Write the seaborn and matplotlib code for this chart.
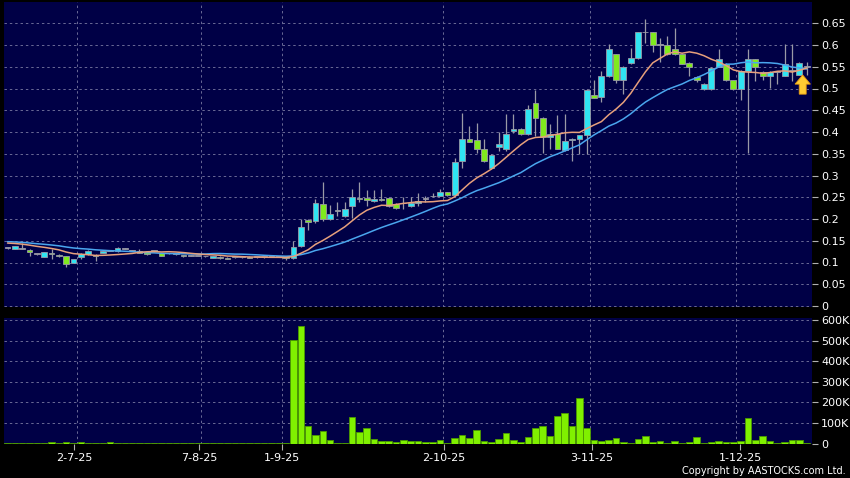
import numpy as np
import pandas as pd
import matplotlib
matplotlib.use("Agg")
import matplotlib.pyplot as plt
import seaborn as sns
from matplotlib.patches import FancyArrow

# ---------------- data ----------------
opens = [0.133, 0.130, 0.132, 0.129, 0.119, 0.113, 0.121, 0.118, 0.115, 0.100,
         0.113, 0.119, 0.118, 0.122, 0.127, 0.126, 0.131, 0.127, 0.126, 0.125,
         0.126, 0.121, 0.121, 0.119, 0.117, 0.116, 0.115, 0.114, 0.111, 0.113,
         0.111, 0.112, 0.112, 0.113, 0.112, 0.112, 0.113, 0.113, 0.115, 0.110,
         0.138, 0.198, 0.195, 0.235, 0.200, 0.218, 0.206, 0.229, 0.249, 0.249,
         0.242, 0.247, 0.249, 0.235, 0.236, 0.230, 0.236, 0.246, 0.252, 0.254,
         0.261, 0.256, 0.333, 0.385, 0.381, 0.361, 0.318, 0.366, 0.362, 0.402,
         0.407, 0.396, 0.467, 0.432, 0.388, 0.396, 0.358, 0.381, 0.384, 0.393,
         0.485, 0.481, 0.529, 0.579, 0.519, 0.558, 0.569, 0.629, 0.629, 0.600,
         0.599, 0.590, 0.579, 0.558, 0.527, 0.498, 0.498, 0.550, 0.557, 0.519,
         0.498, 0.540, 0.567, 0.539, 0.529, 0.539, 0.529, 0.540, 0.531, 0.550]
highs = [0.136, 0.139, 0.144, 0.130, 0.120, 0.124, 0.132, 0.119, 0.116, 0.108,
         0.121, 0.128, 0.119, 0.127, 0.128, 0.135, 0.133, 0.128, 0.130, 0.126,
         0.127, 0.122, 0.121, 0.120, 0.118, 0.117, 0.116, 0.115, 0.116, 0.114,
         0.112, 0.113, 0.112, 0.114, 0.113, 0.113, 0.113, 0.114, 0.116, 0.150,
         0.200, 0.200, 0.245, 0.285, 0.233, 0.239, 0.239, 0.270, 0.285, 0.266,
         0.267, 0.270, 0.250, 0.236, 0.250, 0.250, 0.260, 0.252, 0.260, 0.270,
         0.262, 0.340, 0.444, 0.414, 0.420, 0.384, 0.350, 0.400, 0.442, 0.442,
         0.410, 0.463, 0.497, 0.434, 0.418, 0.438, 0.441, 0.386, 0.394, 0.500,
         0.520, 0.541, 0.602, 0.580, 0.552, 0.593, 0.630, 0.659, 0.630, 0.617,
         0.620, 0.640, 0.580, 0.560, 0.528, 0.512, 0.550, 0.590, 0.558, 0.520,
         0.543, 0.590, 0.568, 0.540, 0.540, 0.540, 0.602, 0.602, 0.561, 0.561]
lows = [0.132, 0.130, 0.131, 0.115, 0.118, 0.112, 0.109, 0.113, 0.090, 0.099,
        0.107, 0.118, 0.103, 0.121, 0.126, 0.125, 0.130, 0.126, 0.121, 0.118,
        0.125, 0.115, 0.120, 0.118, 0.113, 0.115, 0.114, 0.113, 0.110, 0.109,
        0.107, 0.111, 0.111, 0.110, 0.111, 0.111, 0.112, 0.112, 0.105, 0.108,
        0.135, 0.175, 0.190, 0.195, 0.198, 0.206, 0.205, 0.202, 0.240, 0.230,
        0.240, 0.242, 0.228, 0.222, 0.222, 0.228, 0.229, 0.240, 0.250, 0.254,
        0.254, 0.254, 0.318, 0.376, 0.352, 0.330, 0.314, 0.356, 0.356, 0.398,
        0.394, 0.394, 0.390, 0.352, 0.361, 0.360, 0.356, 0.334, 0.350, 0.349,
        0.478, 0.468, 0.527, 0.512, 0.488, 0.556, 0.567, 0.605, 0.583, 0.560,
        0.578, 0.578, 0.556, 0.528, 0.514, 0.496, 0.496, 0.549, 0.518, 0.497,
        0.473, 0.352, 0.518, 0.520, 0.502, 0.510, 0.528, 0.517, 0.530, 0.531]
closes = [0.133, 0.138, 0.132, 0.123, 0.119, 0.123, 0.119, 0.114, 0.096, 0.107,
          0.120, 0.126, 0.115, 0.126, 0.127, 0.133, 0.131, 0.127, 0.122, 0.119,
          0.126, 0.116, 0.121, 0.119, 0.114, 0.116, 0.115, 0.114, 0.115, 0.110,
          0.108, 0.112, 0.112, 0.111, 0.112, 0.112, 0.113, 0.113, 0.111, 0.135,
          0.181, 0.193, 0.236, 0.200, 0.212, 0.218, 0.222, 0.250, 0.246, 0.243,
          0.246, 0.243, 0.230, 0.225, 0.236, 0.236, 0.241, 0.246, 0.252, 0.261,
          0.255, 0.331, 0.385, 0.377, 0.361, 0.333, 0.347, 0.373, 0.396, 0.407,
          0.396, 0.452, 0.432, 0.388, 0.396, 0.361, 0.380, 0.385, 0.393, 0.496,
          0.479, 0.529, 0.590, 0.519, 0.550, 0.569, 0.629, 0.629, 0.600, 0.600,
          0.579, 0.579, 0.557, 0.550, 0.520, 0.510, 0.548, 0.567, 0.519, 0.498,
          0.540, 0.567, 0.550, 0.529, 0.539, 0.539, 0.557, 0.540, 0.559, 0.550]
# closes before the first visible bar (only used to seed the moving averages)
prior_closes = [0.152, 0.150, 0.153, 0.151, 0.150, 0.152, 0.151, 0.150, 0.152, 0.150,
                0.148, 0.147, 0.146, 0.147, 0.145, 0.146, 0.145, 0.146, 0.144]
volumes_k = [1, 1, 1, 1, 1, 1, 5, 1, 6, 1,
             5, 1, 1, 1, 5, 1, 1, 1, 1, 1,
             1, 1, 1, 1, 1, 1, 1, 1, 1, 1,
             1, 1, 1, 1, 1, 1, 1, 1, 1, 506,
             574, 84, 40, 63, 16, 3, 3, 128, 55, 76,
             21, 11, 10, 6, 18, 11, 13, 6, 6, 16,
             3, 28, 39, 26, 68, 11, 6, 21, 49, 15,
             6, 32, 75, 86, 36, 136, 146, 84, 220, 75,
             19, 10, 16, 26, 5, 2, 24, 37, 6, 10,
             3, 10, 2, 6, 32, 2, 6, 11, 6, 6,
             11, 123, 19, 36, 11, 2, 6, 19, 16, 3]
date_labels = ["2-7-25", "7-8-25", "1-9-25", "2-10-25", "3-11-25", "1-12-25"]
date_label_idx = [9.1, 26.1, 37.4, 59.5, 79.7, 99.9]
date_grid_idx = [9.5, 26.4, 37.4, 59.4, 79.4, 99.3]
price_ticks = [0, 0.05, 0.1, 0.15, 0.2, 0.25, 0.3, 0.35, 0.4, 0.45, 0.5, 0.55, 0.6, 0.65]
volume_ticks_k = [0, 100, 200, 300, 400, 500, 600]

# ---------------- derived ----------------
n = len(closes)
idx = np.arange(n)
o = np.array(opens); h = np.array(highs); l = np.array(lows); c = np.array(closes)
all_close = pd.Series(prior_closes + closes)
ma10 = all_close.rolling(10).mean().to_numpy()[-n:]
ma20 = all_close.rolling(20).mean().to_numpy()[-n:]

# ---------------- style ----------------
sns.set_theme(style="dark")
plt.rcParams["font.family"] = ["DejaVu Sans"]
NAVY = "#000046"
CYAN = "#30e4f2"
GREEN = "#80ea1e"
GRID = "#6a6a96"
EDGE = "#9a9aa6"

W, H = 850, 478
fig = plt.figure(figsize=(W / 100, H / 100), dpi=100, facecolor="black")

def frame(l, t, r, b):
    return [l / W, 1 - b / H, (r - l) / W, (b - t) / H]

ax = fig.add_axes(frame(4, 2, 811.5, 307))
axv = fig.add_axes(frame(4, 318.3, 811.5, 443.5), sharex=ax)

for a in (ax, axv):
    a.set_facecolor(NAVY)
    for s in a.spines.values():
        s.set_visible(False)
    a.grid(False)
    for g in date_grid_idx:
        a.axvline(g, color=GRID, lw=0.7, ls=(0, (2.5, 3)), zorder=0.5)

# ---------------- price panel ----------------
for t in price_ticks:
    ax.axhline(t, color=GRID, lw=0.7, ls=(0, (2.5, 3)), zorder=0.5)

ax.vlines(idx, l, h, color=EDGE, lw=0.9, zorder=2)
body_lo = np.minimum(o, c)
body_h = np.maximum(np.abs(c - o), 0.0018)
body_col = np.where(c > o, CYAN, np.where(c < o, GREEN, EDGE))
ax.bar(idx, body_h, bottom=body_lo, width=0.8, color=body_col,
       edgecolor=EDGE, linewidth=0.6, zorder=3)

sns.lineplot(x=idx, y=ma20, ax=ax, color="#4aa6ee", lw=1.1, zorder=4)
sns.lineplot(x=idx, y=ma10, ax=ax, color="#e7a07c", lw=1.1, zorder=4)

ax.add_patch(FancyArrow(108.45, 0.487, 0, 0.044, width=0.95, head_width=2.1,
                        head_length=0.021, length_includes_head=True,
                        facecolor="#ffcc33", edgecolor="#e89a10", lw=0.6, zorder=6))

ax.set_xlim(-0.48, 109.65)
ax.set_ylim(-1 / 435, 305 / 435 - 1 / 435)
ax.yaxis.tick_right()
ax.set_yticks(price_ticks)
ax.set_yticklabels([f"{t:g}" for t in price_ticks])
ax.tick_params(axis="y", right=True, left=False, length=4, width=0.8, color="#b0b0b0",
               labelcolor="white", labelsize=8, pad=3)
ax.tick_params(axis="x", bottom=False, labelbottom=False)
ax.set_xlabel(""); ax.set_ylabel("")

# ---------------- volume panel ----------------
vol_ticks = [v * 1000 for v in volume_ticks_k]
for t in vol_ticks:
    axv.axhline(t, color=GRID, lw=0.7, ls=(0, (2.5, 3)), zorder=0.5)

vdf = pd.DataFrame({"i": idx, "v": np.array(volumes_k) * 1000})
sns.barplot(data=vdf, x="i", y="v", native_scale=True, color="#80f000", saturation=1,
            width=0.9, edgecolor="#4c9a00", linewidth=0.6, errorbar=None, ax=axv, zorder=3)
axv.set_xlim(-0.48, 109.65)
axv.set_ylim(0, 609200)
axv.yaxis.tick_right()
axv.set_yticks(vol_ticks)
axv.set_yticklabels(["0"] + [f"{v}K" for v in volume_ticks_k[1:]])
axv.tick_params(axis="y", right=True, left=False, length=4, width=0.8, color="#b0b0b0",
                labelcolor="white", labelsize=8, pad=3)
axv.set_xticks(date_label_idx)
axv.set_xticklabels(date_labels)
axv.tick_params(axis="x", bottom=True, length=4, width=0.8, color="#b0b0b0",
                labelcolor="white", labelsize=8, pad=3)
axv.set_xlabel(""); axv.set_ylabel("")

fig.text(846 / W, 1 - 471 / H, "Copyright by AASTOCKS.com Ltd.", color="white",
         fontsize=7, ha="right", va="center")

fig.savefig("out.png", dpi=100, facecolor="black")
